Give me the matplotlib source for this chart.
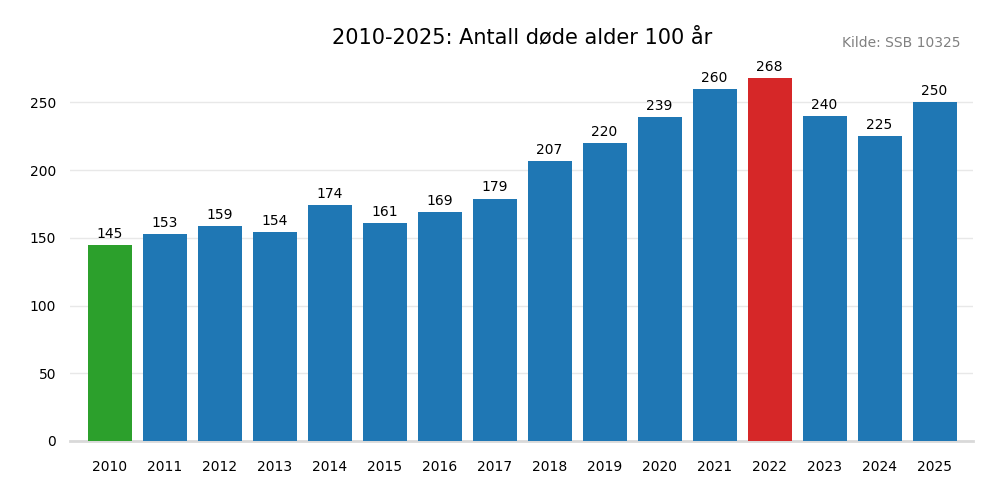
import matplotlib
matplotlib.use("Agg")
import matplotlib.pyplot as plt

years = ["2010", "2011", "2012", "2013", "2014", "2015", "2016", "2017",
         "2018", "2019", "2020", "2021", "2022", "2023", "2024", "2025"]
deaths = [145, 153, 159, 154, 174, 161, 169, 179, 207, 220, 239, 260, 268, 240, 225, 250]
colors = ["#2ca02c"] + ["#1f77b4"] * 11 + ["#d62728"] + ["#1f77b4"] * 3

fig = plt.figure(figsize=(10, 5), dpi=100)
ax = fig.add_axes([0.07, 0.118, 0.903, 0.7586])
x = list(range(len(years)))
bars = ax.bar(x, deaths, width=0.8, color=colors, zorder=3)
for xi, v in zip(x, deaths):
    ax.text(xi, v + 3, str(v), ha="center", va="bottom", fontsize=10, color="black")

ax.set_xlim(-0.72, 15.70)
ax.set_ylim(0, 280)
ax.set_xticks(x)
ax.set_xticklabels(years)
ax.set_yticks([0, 50, 100, 150, 200, 250])
ax.tick_params(axis="y", length=0, labelsize=10, pad=10)
ax.tick_params(axis="x", length=0, labelsize=10, pad=14)
ax.grid(axis="y", color="#e8e8e8", linewidth=1, zorder=0)
for s in ["top", "right", "left"]:
    ax.spines[s].set_visible(False)
ax.spines["bottom"].set_color("#d9d9d9")
ax.spines["bottom"].set_linewidth(2)

fig.text(0.522, 0.926, "2010-2025: Antall døde alder 100 år", ha="center", va="center", fontsize=15)
fig.text(0.96, 0.914, "Kilde: SSB 10325", ha="right", va="center", fontsize=10, color="#808080")

fig.savefig("out.png", dpi=100)
